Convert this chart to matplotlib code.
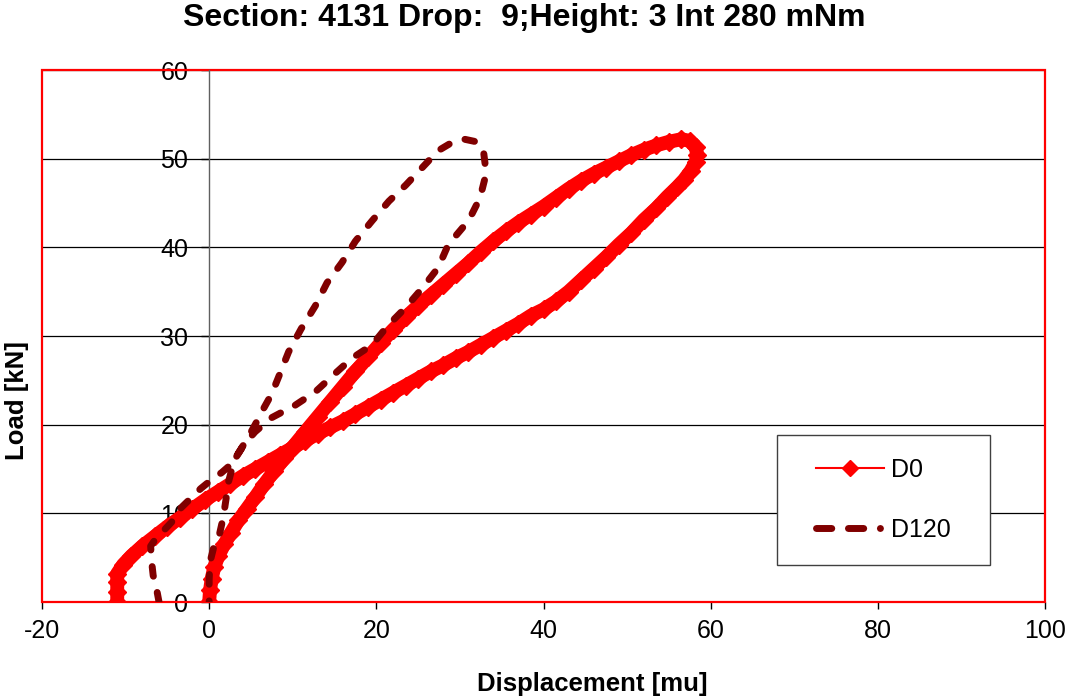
import matplotlib
matplotlib.use("Agg")
import matplotlib.pyplot as plt
from matplotlib.lines import Line2D
from matplotlib.patches import Rectangle

plt.rcParams['font.family'] = ['Liberation Sans', 'DejaVu Sans']
plt.rcParams['axes.unicode_minus'] = False

# D0: loading branch (from 0 up to the peak) and unloading branch (back down)
d0_load_x = [0, 0.1, 0.3, 0.6, 1.1, 1.8, 2.6, 3.5, 4.5, 5.5,
             6.6, 7.8, 9, 10.2, 11.5, 13, 14.5, 16, 17.5, 19,
             20.5, 22, 23.5, 25, 26.5, 28, 29.5, 31, 32.5, 34,
             35.5, 37, 38.5, 40, 41.5, 43, 44.5, 46, 47.5, 49,
             50.5, 52, 53.5, 55, 56.5, 57.5, 58.2, 58.4]
d0_load_y = [0, 1.3, 2.6, 3.9, 5.2, 6.5, 7.8, 9.2, 10.5, 11.8,
             13.3, 14.8, 16.2, 17.7, 19.2, 20.9, 22.6, 24.3, 26, 27.6,
             29.2, 30.7, 32.1, 33.4, 34.6, 35.8, 37, 38.2, 39.5, 40.7,
             41.8, 42.8, 43.7, 44.6, 45.6, 46.6, 47.5, 48.3, 49, 49.7,
             50.4, 51, 51.5, 51.9, 52.2, 52, 51.3, 50.4]
d0_unload_x = [58.2, 57.6, 56.8, 56, 54.8, 53.5, 52, 50.5, 49, 47.5,
               46, 44.5, 43, 41.5, 40, 38.5, 37, 35.5, 34, 32.5,
               31, 29.5, 28, 26.5, 25, 23.5, 22, 20.5, 19, 17.5,
               16, 14.5, 13, 11.5, 10, 8.5, 7, 5.5, 4, 2.5,
               1, -0.5, -2, -3.5, -5, -6.5, -8, -9.3, -10.3, -11,
               -11, -11, -11]
d0_unload_y = [49.6, 48.6, 47.6, 46.8, 45.7, 44.4, 43.1, 41.6, 40.3, 38.9,
               37.6, 36.3, 35, 33.9, 33, 32.3, 31.4, 30.6, 29.8, 29,
               28.2, 27.5, 26.7, 26, 25.2, 24.4, 23.6, 22.8, 22, 21.2,
               20.4, 19.7, 19, 18.2, 17.4, 16.6, 15.8, 15, 14.2, 13.3,
               12.4, 11.5, 10.5, 9.5, 8.5, 7.4, 6.3, 5.2, 4.2, 3.2,
               2.2, 1.1, 0]

# D120 loop
d120_x = [-6, -6.3, -6.7, -6.9, -7, -6.5, -5.5, -4.5, -3.5, -2.3,
          -1, 0.3, 1.5, 2.6, 3.3, 4.5, 5.5, 6.5, 7.5, 8.4,
          9.5, 11, 12.7, 14.1, 15.9, 17.5, 19.5, 21.5, 23.5, 25.5,
          27.4, 29, 30.5, 32, 32.8, 33, 33, 32.6, 32.1, 31.3,
          30.4, 29.5, 28.6, 27.4, 25.5, 23.5, 21.4, 19.5, 17.1, 15.1,
          12.7, 10.3, 7.5, 5.5, 4.2, 3, 2.3, 2, 1.7, 1.2,
          0.5, 0.1, 0, 0]
d120_y = [0, 1.5, 3, 4.7, 6.3, 7, 8, 9, 10.5, 11.6,
          12.8, 13.8, 14.6, 15.5, 16.5, 18.3, 20, 21.8, 23.5, 25.6,
          28.2, 30.8, 33.4, 36, 38.3, 40.7, 43, 45.2, 47, 49,
          50.9, 51.8, 52.2, 51.9, 51, 49.5, 47.8, 46.3, 45, 43.5,
          42.3, 41.3, 40.3, 37.7, 35.4, 33.2, 31.2, 29, 27.5, 25.8,
          23.7, 22.2, 20.8, 19.2, 17.8, 16, 13.5, 11.5, 9.6, 7.5,
          6, 4.5, 2.5, 0]

series_names = ["D0", "D120"]
x_ticks = [-20, 0, 20, 40, 60, 80, 100]
y_ticks = [0, 10, 20, 30, 40, 50, 60]

d0_x = d0_load_x + d0_unload_x
d0_y = d0_load_y + d0_unload_y

RED = "#FF0000"
DARK = "#800000"
line_dash = [1.4, 2.4]
legend_dash = [2.2, 2.4, 2.2, 2.4, 0.01, 2.4]

fig = plt.figure(figsize=(10.66, 6.98), dpi=100)
ax = fig.add_axes([42 / 1066, 1 - 602 / 698, 1003 / 1066, 532 / 698])

ax.plot(d0_x, d0_y, color=RED, lw=10, marker='D', markersize=9,
        zorder=3)
ax.plot(d120_x, d120_y, color=DARK, lw=5, dashes=line_dash,
        dash_capstyle='round', zorder=4)

ax.set_xlim(-20, 100)
ax.set_ylim(0, 60)
ax.set_xticks(x_ticks)
ax.set_yticks(y_ticks)

# y axis sits at x = 0, the red frame is drawn separately
for s in ['top', 'right', 'bottom']:
    ax.spines[s].set_visible(False)
ax.spines['left'].set_position(('data', 0))
ax.spines['left'].set_color('#606060')
ax.spines['left'].set_linewidth(1)

ax.tick_params(axis='y', direction='out', length=6, width=1, color='black',
               labelsize=18, pad=9)
ax.tick_params(axis='x', direction='out', length=5, width=1, color='black',
               labelsize=18, pad=7)

ax.set_axisbelow(True)
ax.yaxis.grid(True, color='black', lw=0.9)
ax.add_patch(Rectangle((0, 0), 1, 1, transform=ax.transAxes, fill=False,
                       ec=RED, lw=1.6, clip_on=False, zorder=2))

# legend box
ax.add_patch(Rectangle((0.733, 0.0695), 0.212, 0.2445, transform=ax.transAxes,
                       fc='white', ec='#404040', lw=1, zorder=5))
handles = [Line2D([], [], color=RED, lw=1.5, marker='D', markersize=8),
           Line2D([], [], color=DARK, lw=5, dashes=legend_dash, dash_capstyle='round')]
leg = ax.legend(handles, series_names, loc='center',
                bbox_to_anchor=(0.733 + 0.106, 0.0695 + 0.122),
                frameon=False, fontsize=18, handlelength=2.7,
                handletextpad=0.3, labelspacing=1.45)
leg.set_zorder(6)

fig.text(524 / 1066, 1 - 18 / 698, "Section: 4131 Drop:  9;Height: 3 Int 280 mNm",
         ha='center', va='center', fontsize=23, fontweight='bold')
fig.text(592 / 1066, 1 - 684 / 698, "Displacement [mu]", ha='center', va='center',
         fontsize=18.5, fontweight='bold')
fig.text(17 / 1066, 1 - 400 / 698, "Load [kN]", ha='center', va='center',
         rotation=90, fontsize=18.5, fontweight='bold')

fig.savefig("out.png", dpi=100)
